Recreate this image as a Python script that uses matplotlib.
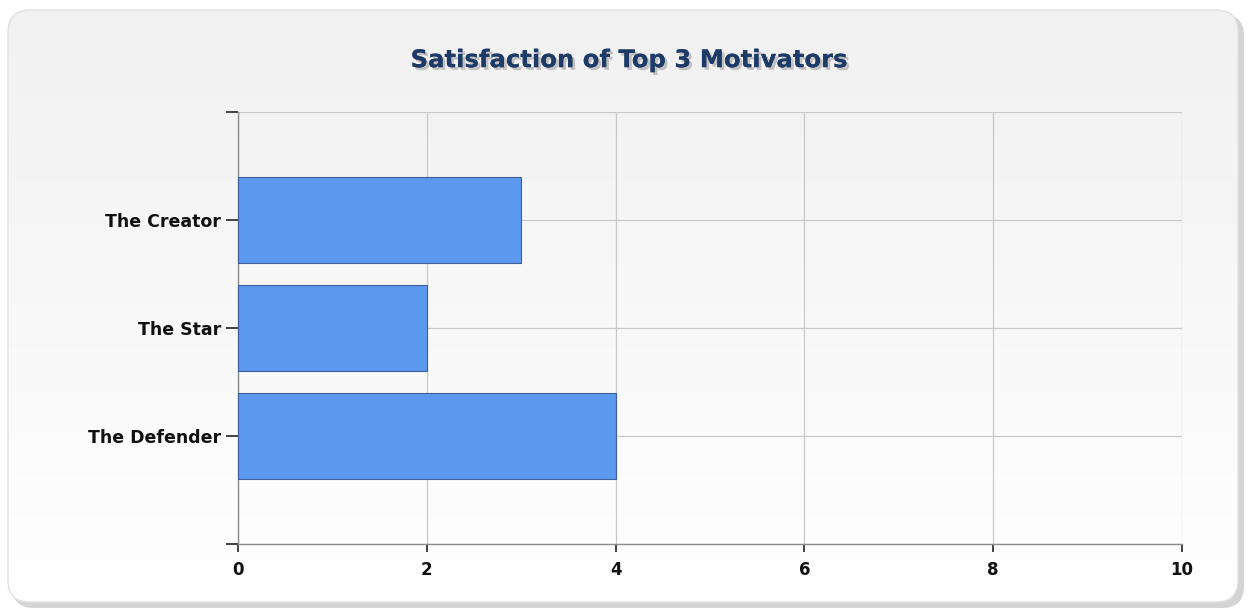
"""
Satisfaction of Top 3 Motivators - horizontal bar chart
"""

import matplotlib
matplotlib.use("Agg")
import matplotlib.pyplot as plt
import numpy as np
from matplotlib.patches import FancyBboxPatch
import matplotlib.patheffects as pe

# Data
motivators = ["The Defender", "The Star", "The Creator"]
satisfaction = [4, 2, 3]
x_ticks = [0, 2, 4, 6, 8, 10]

BAR_COLOR = "#5b98ee"
EDGE_COLOR = "#40609a"
TITLE_COLOR = "#1e3a66"
GRID_COLOR = "#c9c9c9"

fig = plt.figure(figsize=(12.49, 6.14), dpi=100)
fig.patch.set_facecolor("white")

# Panel background: rounded box with a soft grey-to-white gradient and shadow
bg = fig.add_axes([0, 0, 1, 1], zorder=-10)
bg.set_xlim(0, 1249)
bg.set_ylim(614, 0)
bg.axis("off")

shadow = FancyBboxPatch((12, 14), 1232, 594, boxstyle="round,pad=0,rounding_size=22",
                        facecolor="#b8b8b8", edgecolor="none", alpha=0.6)
bg.add_patch(shadow)
panel = FancyBboxPatch((8, 10), 1230, 592, boxstyle="round,pad=0,rounding_size=22",
                       facecolor="none", edgecolor="#e2e2e2", linewidth=1.0)
bg.add_patch(panel)
grad = np.linspace(0.945, 1.0, 256).reshape(-1, 1)
img = bg.imshow(np.dstack([grad, grad, grad]), extent=[8, 1238, 602, 10],
                aspect="auto", zorder=1)
img.set_clip_path(panel)
panel.set_zorder(2)

# Title with drop shadow
fig.text(0.503, 0.902, "Satisfaction of Top 3 Motivators", ha="center", va="center",
         fontsize=17.5, fontweight="bold", color=TITLE_COLOR,
         path_effects=[pe.withSimplePatchShadow(offset=(2, -2), shadow_rgbFace="#9a9a9a", alpha=0.55),
                       pe.Normal()])

# Main chart
ax = fig.add_axes([238 / 1249, 70 / 614, 944 / 1249, 432 / 614])
ax.set_facecolor("none")
y = np.arange(len(motivators))
ax.barh(y, satisfaction, height=0.8, color=BAR_COLOR, edgecolor=EDGE_COLOR,
        linewidth=0.8, zorder=3)

ax.set_xlim(0, 10)
ax.set_ylim(-1, 3)
ax.set_xticks(x_ticks)
ax.set_xticklabels([str(t) for t in x_ticks], fontsize=12, fontweight="bold", color="#111111")
ax.set_yticks([-1, 0, 1, 2, 3])
ax.set_yticklabels([""] + motivators + [""], fontsize=12.5, fontweight="bold", color="#111111")

ax.grid(True, color=GRID_COLOR, linewidth=0.9, zorder=0)
ax.set_axisbelow(True)

for side in ["top", "right"]:
    ax.spines[side].set_visible(False)
for side in ["left", "bottom"]:
    ax.spines[side].set_color("#8c8c8c")
    ax.spines[side].set_linewidth(1.0)

ax.tick_params(axis="y", length=9, width=1.2, color="#222222", pad=3)
ax.tick_params(axis="x", length=6, width=1.2, color="#222222", pad=6)

fig.savefig("out.png", dpi=100)
